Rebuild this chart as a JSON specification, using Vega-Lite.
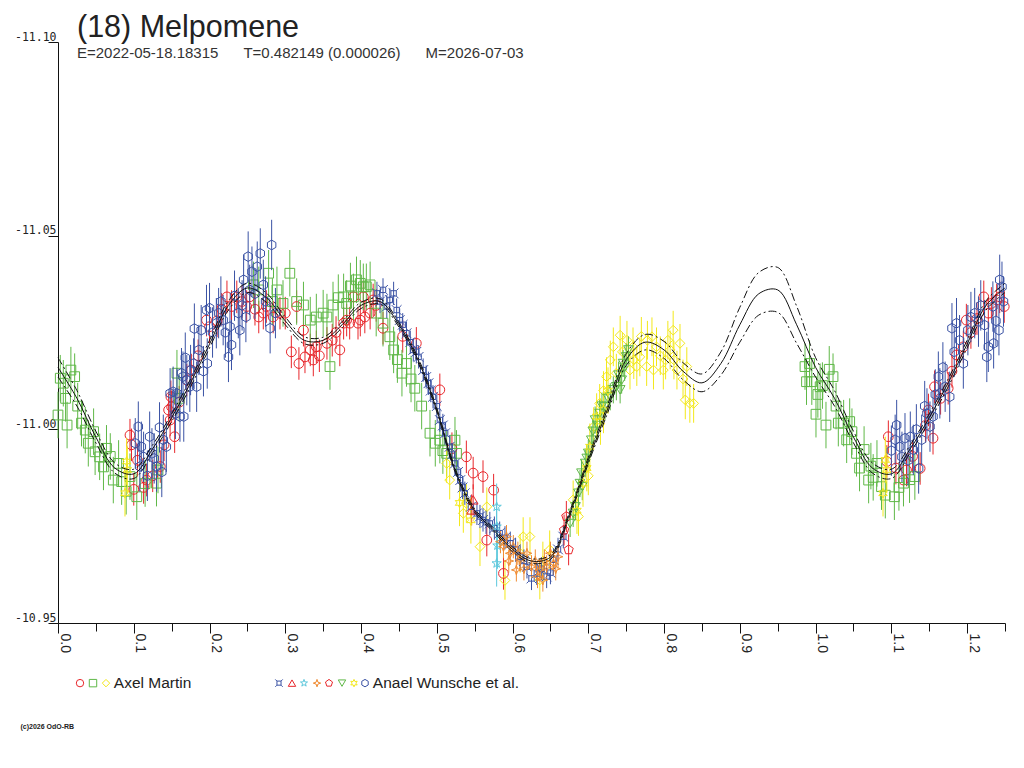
{
  "$schema": "https://vega.github.io/schema/vega-lite/v6.json",
  "description": "(18) Melpomene phased lightcurve",
  "width": 947,
  "height": 581,
  "autosize": "none",
  "padding": {"left": 58, "top": 42, "right": 19, "bottom": 145},
  "background": "white",
  "config": {
    "view": {"stroke": null},
    "font": "Liberation Sans"
  },
  "title": {
    "text": "(18) Melpomene",
    "subtitle": "E=2022-05-18.18315\u00a0\u00a0\u00a0\u00a0\u00a0\u00a0T=0.482149 (0.000026)\u00a0\u00a0\u00a0\u00a0\u00a0\u00a0M=2026-07-03",
    "anchor": "start",
    "frame": "group",
    "dx": 19,
    "offset": -30,
    "fontSize": 30.5,
    "fontWeight": "normal",
    "color": "#222222",
    "subtitleFontSize": 15,
    "subtitleColor": "#333333",
    "subtitlePadding": 3
  },
  "datasets": {
    "fit": [
      {"p": 0.000, "mid": -11.016, "up": -11.0185, "lo": -11.0135},
      {"p": 0.025, "mid": -11.008, "up": -11.010, "lo": -11.006},
      {"p": 0.050, "mid": -10.998, "up": -10.9995, "lo": -10.9965},
      {"p": 0.075, "mid": -10.990, "up": -10.9913, "lo": -10.9887},
      {"p": 0.100, "mid": -10.9885, "up": -10.9897, "lo": -10.9873},
      {"p": 0.125, "mid": -10.995, "up": -10.996, "lo": -10.994},
      {"p": 0.150, "mid": -11.003, "up": -11.004, "lo": -11.002},
      {"p": 0.175, "mid": -11.012, "up": -11.013, "lo": -11.011},
      {"p": 0.200, "mid": -11.022, "up": -11.023, "lo": -11.021},
      {"p": 0.225, "mid": -11.032, "up": -11.0332, "lo": -11.0308},
      {"p": 0.250, "mid": -11.0365, "up": -11.0377, "lo": -11.0353},
      {"p": 0.275, "mid": -11.034, "up": -11.0352, "lo": -11.0328},
      {"p": 0.300, "mid": -11.028, "up": -11.029, "lo": -11.027},
      {"p": 0.325, "mid": -11.023, "up": -11.0239, "lo": -11.0221},
      {"p": 0.350, "mid": -11.023, "up": -11.0238, "lo": -11.0222},
      {"p": 0.375, "mid": -11.027, "up": -11.0278, "lo": -11.0262},
      {"p": 0.400, "mid": -11.032, "up": -11.0328, "lo": -11.0312},
      {"p": 0.425, "mid": -11.033, "up": -11.0337, "lo": -11.0323},
      {"p": 0.450, "mid": -11.027, "up": -11.0276, "lo": -11.0264},
      {"p": 0.475, "mid": -11.018, "up": -11.0186, "lo": -11.0174},
      {"p": 0.500, "mid": -11.005, "up": -11.0055, "lo": -11.0045},
      {"p": 0.525, "mid": -10.989, "up": -10.9895, "lo": -10.9885},
      {"p": 0.550, "mid": -10.979, "up": -10.9795, "lo": -10.9785},
      {"p": 0.575, "mid": -10.974, "up": -10.9745, "lo": -10.9735},
      {"p": 0.600, "mid": -10.969, "up": -10.9696, "lo": -10.9684},
      {"p": 0.625, "mid": -10.966, "up": -10.9666, "lo": -10.9654},
      {"p": 0.650, "mid": -10.967, "up": -10.9676, "lo": -10.9664},
      {"p": 0.675, "mid": -10.978, "up": -10.9786, "lo": -10.9774},
      {"p": 0.700, "mid": -10.992, "up": -10.9928, "lo": -10.9912},
      {"p": 0.725, "mid": -11.005, "up": -11.006, "lo": -11.004},
      {"p": 0.750, "mid": -11.018, "up": -11.0195, "lo": -11.0165},
      {"p": 0.775, "mid": -11.0225, "up": -11.0245, "lo": -11.0205},
      {"p": 0.800, "mid": -11.0205, "up": -11.0227, "lo": -11.0183},
      {"p": 0.825, "mid": -11.015, "up": -11.0172, "lo": -11.0128},
      {"p": 0.850, "mid": -11.012, "up": -11.0143, "lo": -11.0097},
      {"p": 0.875, "mid": -11.017, "up": -11.020, "lo": -11.014},
      {"p": 0.900, "mid": -11.027, "up": -11.0315, "lo": -11.0225},
      {"p": 0.925, "mid": -11.035, "up": -11.0405, "lo": -11.0295},
      {"p": 0.950, "mid": -11.036, "up": -11.0418, "lo": -11.0302},
      {"p": 0.975, "mid": -11.027, "up": -11.0318, "lo": -11.0222},
      {"p": 1.000, "mid": -11.016, "up": -11.0185, "lo": -11.0135},
      {"p": 1.025, "mid": -11.008, "up": -11.010, "lo": -11.006},
      {"p": 1.050, "mid": -10.998, "up": -10.9995, "lo": -10.9965},
      {"p": 1.075, "mid": -10.990, "up": -10.9913, "lo": -10.9887},
      {"p": 1.100, "mid": -10.9885, "up": -10.9897, "lo": -10.9873},
      {"p": 1.125, "mid": -10.995, "up": -10.996, "lo": -10.994},
      {"p": 1.150, "mid": -11.003, "up": -11.004, "lo": -11.002},
      {"p": 1.175, "mid": -11.012, "up": -11.013, "lo": -11.011},
      {"p": 1.200, "mid": -11.022, "up": -11.023, "lo": -11.021},
      {"p": 1.225, "mid": -11.032, "up": -11.0332, "lo": -11.0308},
      {"p": 1.250, "mid": -11.0365, "up": -11.0377, "lo": -11.0353}
    ]
  },
  "data": {
    "values": [
      {"s": "AMc", "p": 0.095, "m": -10.9985, "e": 0.0042},
      {"s": "AMc", "p": 0.097, "m": -10.996, "e": 0.0042},
      {"s": "AMc", "p": 0.100, "m": -10.9845, "e": 0.0042},
      {"s": "AMc", "p": 0.105, "m": -10.992, "e": 0.0042},
      {"s": "AMc", "p": 0.113, "m": -10.985, "e": 0.0042},
      {"s": "AMc", "p": 0.117, "m": -10.9869, "e": 0.0042},
      {"s": "AMc", "p": 0.125, "m": -10.988, "e": 0.0042},
      {"s": "AMc", "p": 0.135, "m": -10.9904, "e": 0.0042},
      {"s": "AMc", "p": 0.140, "m": -10.996, "e": 0.0042},
      {"s": "AMc", "p": 0.146, "m": -11.005, "e": 0.0042},
      {"s": "AMc", "p": 0.148, "m": -11.0024, "e": 0.0042},
      {"s": "AMc", "p": 0.149, "m": -11.0084, "e": 0.0042},
      {"s": "AMc", "p": 0.150, "m": -11.0058, "e": 0.0042},
      {"s": "AMc", "p": 0.154, "m": -10.9981, "e": 0.0042},
      {"s": "AMc", "p": 0.160, "m": -11.007, "e": 0.0042},
      {"s": "AMc", "p": 0.170, "m": -11.0127, "e": 0.0042},
      {"s": "AMc", "p": 0.176, "m": -11.0153, "e": 0.0042},
      {"s": "AMc", "p": 0.185, "m": -11.019, "e": 0.0042},
      {"s": "AMc", "p": 0.196, "m": -11.0282, "e": 0.0042},
      {"s": "AMc", "p": 0.200, "m": -11.0265, "e": 0.0042},
      {"s": "AMc", "p": 0.210, "m": -11.028, "e": 0.0042},
      {"s": "AMc", "p": 0.216, "m": -11.031, "e": 0.0042},
      {"s": "AMc", "p": 0.223, "m": -11.0342, "e": 0.0042},
      {"s": "AMc", "p": 0.229, "m": -11.0317, "e": 0.0042},
      {"s": "AMc", "p": 0.236, "m": -11.0342, "e": 0.0042},
      {"s": "AMc", "p": 0.243, "m": -11.033, "e": 0.0042},
      {"s": "AMc", "p": 0.249, "m": -11.0317, "e": 0.0042},
      {"s": "AMc", "p": 0.253, "m": -11.0342, "e": 0.0042},
      {"s": "AMc", "p": 0.260, "m": -11.031, "e": 0.0042},
      {"s": "AMc", "p": 0.265, "m": -11.029, "e": 0.0042},
      {"s": "AMc", "p": 0.271, "m": -11.030, "e": 0.0042},
      {"s": "AMc", "p": 0.275, "m": -11.0317, "e": 0.0042},
      {"s": "AMc", "p": 0.284, "m": -11.029, "e": 0.0042},
      {"s": "AMc", "p": 0.293, "m": -11.030, "e": 0.0042},
      {"s": "AMc", "p": 0.300, "m": -11.030, "e": 0.0042},
      {"s": "AMc", "p": 0.308, "m": -11.020, "e": 0.0042},
      {"s": "AMc", "p": 0.315, "m": -11.0317, "e": 0.0042},
      {"s": "AMc", "p": 0.318, "m": -11.017, "e": 0.0042},
      {"s": "AMc", "p": 0.324, "m": -11.0256, "e": 0.0042},
      {"s": "AMc", "p": 0.326, "m": -11.0187, "e": 0.0042},
      {"s": "AMc", "p": 0.333, "m": -11.0205, "e": 0.0042},
      {"s": "AMc", "p": 0.337, "m": -11.0179, "e": 0.0042},
      {"s": "AMc", "p": 0.341, "m": -11.0213, "e": 0.0042},
      {"s": "AMc", "p": 0.345, "m": -11.019, "e": 0.0042},
      {"s": "AMc", "p": 0.355, "m": -11.0222, "e": 0.0042},
      {"s": "AMc", "p": 0.362, "m": -11.023, "e": 0.0042},
      {"s": "AMc", "p": 0.367, "m": -11.025, "e": 0.0042},
      {"s": "AMc", "p": 0.372, "m": -11.0205, "e": 0.0042},
      {"s": "AMc", "p": 0.377, "m": -11.0274, "e": 0.0042},
      {"s": "AMc", "p": 0.381, "m": -11.0282, "e": 0.0042},
      {"s": "AMc", "p": 0.385, "m": -11.0274, "e": 0.0042},
      {"s": "AMc", "p": 0.390, "m": -11.0342, "e": 0.0042},
      {"s": "AMc", "p": 0.396, "m": -11.0274, "e": 0.0042},
      {"s": "AMc", "p": 0.399, "m": -11.0282, "e": 0.0042},
      {"s": "AMc", "p": 0.403, "m": -11.0342, "e": 0.0042},
      {"s": "AMc", "p": 0.405, "m": -11.029, "e": 0.0042},
      {"s": "AMc", "p": 0.412, "m": -11.030, "e": 0.0042},
      {"s": "AMc", "p": 0.416, "m": -11.0334, "e": 0.0042},
      {"s": "AMc", "p": 0.420, "m": -11.032, "e": 0.0042},
      {"s": "AMc", "p": 0.429, "m": -11.0261, "e": 0.0042},
      {"s": "AMc", "p": 0.455, "m": -11.024, "e": 0.0042},
      {"s": "AMc", "p": 0.473, "m": -11.0222, "e": 0.0042},
      {"s": "AMc", "p": 0.504, "m": -11.0102, "e": 0.0042},
      {"s": "AMc", "p": 0.520, "m": -10.995, "e": 0.0042},
      {"s": "AMc", "p": 0.539, "m": -10.9929, "e": 0.0042},
      {"s": "AMc", "p": 0.548, "m": -10.9887, "e": 0.0042},
      {"s": "AMc", "p": 0.561, "m": -10.9878, "e": 0.0042},
      {"s": "AMc", "p": 0.566, "m": -10.9714, "e": 0.0042},
      {"s": "AMc", "p": 0.575, "m": -10.9843, "e": 0.0042},
      {"s": "AMc", "p": 0.588, "m": -10.9628, "e": 0.0042},
      {"s": "AMc", "p": 1.094, "m": -10.9917, "e": 0.0042},
      {"s": "AMc", "p": 1.096, "m": -10.9981, "e": 0.0042},
      {"s": "AMc", "p": 1.106, "m": -10.990, "e": 0.0042},
      {"s": "AMc", "p": 1.116, "m": -10.9869, "e": 0.0042},
      {"s": "AMc", "p": 1.120, "m": -10.9895, "e": 0.0042},
      {"s": "AMc", "p": 1.128, "m": -10.993, "e": 0.0042},
      {"s": "AMc", "p": 1.138, "m": -10.9899, "e": 0.0042},
      {"s": "AMc", "p": 1.145, "m": -11.001, "e": 0.0042},
      {"s": "AMc", "p": 1.149, "m": -11.005, "e": 0.0042},
      {"s": "AMc", "p": 1.155, "m": -10.9977, "e": 0.0042},
      {"s": "AMc", "p": 1.157, "m": -11.011, "e": 0.0042},
      {"s": "AMc", "p": 1.165, "m": -11.008, "e": 0.0042},
      {"s": "AMc", "p": 1.175, "m": -11.0106, "e": 0.0042},
      {"s": "AMc", "p": 1.180, "m": -11.015, "e": 0.0042},
      {"s": "AMc", "p": 1.186, "m": -11.0192, "e": 0.0042},
      {"s": "AMc", "p": 1.195, "m": -11.0213, "e": 0.0042},
      {"s": "AMc", "p": 1.199, "m": -11.0282, "e": 0.0042},
      {"s": "AMc", "p": 1.205, "m": -11.025, "e": 0.0042},
      {"s": "AMc", "p": 1.213, "m": -11.0286, "e": 0.0042},
      {"s": "AMc", "p": 1.222, "m": -11.0342, "e": 0.0042},
      {"s": "AMc", "p": 1.228, "m": -11.030, "e": 0.0042},
      {"s": "AMc", "p": 1.232, "m": -11.0325, "e": 0.0042},
      {"s": "AMc", "p": 1.239, "m": -11.0334, "e": 0.0042},
      {"s": "AMc", "p": 1.243, "m": -11.0342, "e": 0.0042},
      {"s": "AMc", "p": 1.249, "m": -11.0317, "e": 0.0042},

      {"s": "AMs", "p": 0.000, "m": -11.0037, "e": 0.006},
      {"s": "AMs", "p": 0.003, "m": -11.0132, "e": 0.006},
      {"s": "AMs", "p": 0.007, "m": -11.0119, "e": 0.006},
      {"s": "AMs", "p": 0.010, "m": -11.008, "e": 0.006},
      {"s": "AMs", "p": 0.012, "m": -11.0011, "e": 0.006},
      {"s": "AMs", "p": 0.017, "m": -11.0153, "e": 0.006},
      {"s": "AMs", "p": 0.022, "m": -11.0136, "e": 0.006},
      {"s": "AMs", "p": 0.026, "m": -11.006, "e": 0.006},
      {"s": "AMs", "p": 0.031, "m": -11.0016, "e": 0.006},
      {"s": "AMs", "p": 0.036, "m": -10.9998, "e": 0.006},
      {"s": "AMs", "p": 0.040, "m": -10.9964, "e": 0.006},
      {"s": "AMs", "p": 0.047, "m": -10.9994, "e": 0.006},
      {"s": "AMs", "p": 0.049, "m": -10.9942, "e": 0.006},
      {"s": "AMs", "p": 0.055, "m": -10.9929, "e": 0.006},
      {"s": "AMs", "p": 0.060, "m": -10.9903, "e": 0.006},
      {"s": "AMs", "p": 0.064, "m": -10.9951, "e": 0.006},
      {"s": "AMs", "p": 0.069, "m": -10.993, "e": 0.006},
      {"s": "AMs", "p": 0.073, "m": -10.9869, "e": 0.006},
      {"s": "AMs", "p": 0.080, "m": -10.9912, "e": 0.006},
      {"s": "AMs", "p": 0.084, "m": -10.9865, "e": 0.006},
      {"s": "AMs", "p": 0.090, "m": -10.984, "e": 0.006},
      {"s": "AMs", "p": 0.095, "m": -10.9878, "e": 0.006},
      {"s": "AMs", "p": 0.104, "m": -10.9826, "e": 0.006},
      {"s": "AMs", "p": 0.115, "m": -10.986, "e": 0.006},
      {"s": "AMs", "p": 0.130, "m": -10.9861, "e": 0.006},
      {"s": "AMs", "p": 0.132, "m": -10.9895, "e": 0.006},
      {"s": "AMs", "p": 0.157, "m": -11.0145, "e": 0.006},
      {"s": "AMs", "p": 0.160, "m": -11.008, "e": 0.006},
      {"s": "AMs", "p": 0.258, "m": -11.0373, "e": 0.006},
      {"s": "AMs", "p": 0.265, "m": -11.036, "e": 0.006},
      {"s": "AMs", "p": 0.278, "m": -11.0403, "e": 0.006},
      {"s": "AMs", "p": 0.283, "m": -11.033, "e": 0.006},
      {"s": "AMs", "p": 0.289, "m": -11.036, "e": 0.006},
      {"s": "AMs", "p": 0.297, "m": -11.0325, "e": 0.006},
      {"s": "AMs", "p": 0.306, "m": -11.0403, "e": 0.006},
      {"s": "AMs", "p": 0.315, "m": -11.033, "e": 0.006},
      {"s": "AMs", "p": 0.324, "m": -11.0321, "e": 0.006},
      {"s": "AMs", "p": 0.333, "m": -11.0282, "e": 0.006},
      {"s": "AMs", "p": 0.341, "m": -11.029, "e": 0.006},
      {"s": "AMs", "p": 0.350, "m": -11.030, "e": 0.006},
      {"s": "AMs", "p": 0.355, "m": -11.029, "e": 0.006},
      {"s": "AMs", "p": 0.359, "m": -11.0162, "e": 0.006},
      {"s": "AMs", "p": 0.363, "m": -11.0321, "e": 0.006},
      {"s": "AMs", "p": 0.370, "m": -11.034, "e": 0.006},
      {"s": "AMs", "p": 0.377, "m": -11.0342, "e": 0.006},
      {"s": "AMs", "p": 0.381, "m": -11.0325, "e": 0.006},
      {"s": "AMs", "p": 0.386, "m": -11.037, "e": 0.006},
      {"s": "AMs", "p": 0.390, "m": -11.0342, "e": 0.006},
      {"s": "AMs", "p": 0.394, "m": -11.0386, "e": 0.006},
      {"s": "AMs", "p": 0.399, "m": -11.0377, "e": 0.006},
      {"s": "AMs", "p": 0.403, "m": -11.0368, "e": 0.006},
      {"s": "AMs", "p": 0.407, "m": -11.0368, "e": 0.006},
      {"s": "AMs", "p": 0.412, "m": -11.0373, "e": 0.006},
      {"s": "AMs", "p": 0.420, "m": -11.030, "e": 0.006},
      {"s": "AMs", "p": 0.429, "m": -11.0274, "e": 0.006},
      {"s": "AMs", "p": 0.438, "m": -11.0239, "e": 0.006},
      {"s": "AMs", "p": 0.443, "m": -11.0205, "e": 0.006},
      {"s": "AMs", "p": 0.448, "m": -11.018, "e": 0.006},
      {"s": "AMs", "p": 0.454, "m": -11.0145, "e": 0.006},
      {"s": "AMs", "p": 0.460, "m": -11.017, "e": 0.006},
      {"s": "AMs", "p": 0.466, "m": -11.013, "e": 0.006},
      {"s": "AMs", "p": 0.471, "m": -11.0106, "e": 0.006},
      {"s": "AMs", "p": 0.480, "m": -11.006, "e": 0.006},
      {"s": "AMs", "p": 0.491, "m": -10.999, "e": 0.006},
      {"s": "AMs", "p": 0.498, "m": -10.9964, "e": 0.006},
      {"s": "AMs", "p": 0.504, "m": -10.9972, "e": 0.006},
      {"s": "AMs", "p": 0.508, "m": -10.9945, "e": 0.006},
      {"s": "AMs", "p": 0.513, "m": -10.9938, "e": 0.006},
      {"s": "AMs", "p": 0.524, "m": -10.9972, "e": 0.006},
      {"s": "AMs", "p": 0.526, "m": -10.9938, "e": 0.006},
      {"s": "AMs", "p": 0.986, "m": -11.0162, "e": 0.006},
      {"s": "AMs", "p": 0.988, "m": -11.0123, "e": 0.006},
      {"s": "AMs", "p": 0.992, "m": -11.017, "e": 0.006},
      {"s": "AMs", "p": 0.995, "m": -11.0123, "e": 0.006},
      {"s": "AMs", "p": 1.0005, "m": -11.0039, "e": 0.006},
      {"s": "AMs", "p": 1.003, "m": -11.009, "e": 0.006},
      {"s": "AMs", "p": 1.006, "m": -11.011, "e": 0.006},
      {"s": "AMs", "p": 1.009, "m": -11.0113, "e": 0.006},
      {"s": "AMs", "p": 1.0137, "m": -11.0011, "e": 0.006},
      {"s": "AMs", "p": 1.018, "m": -11.0155, "e": 0.006},
      {"s": "AMs", "p": 1.023, "m": -11.0136, "e": 0.006},
      {"s": "AMs", "p": 1.027, "m": -11.006, "e": 0.006},
      {"s": "AMs", "p": 1.030, "m": -11.0016, "e": 0.006},
      {"s": "AMs", "p": 1.037, "m": -11.0016, "e": 0.006},
      {"s": "AMs", "p": 1.041, "m": -10.9973, "e": 0.006},
      {"s": "AMs", "p": 1.045, "m": -11.002, "e": 0.006},
      {"s": "AMs", "p": 1.048, "m": -10.9994, "e": 0.006},
      {"s": "AMs", "p": 1.054, "m": -10.9938, "e": 0.006},
      {"s": "AMs", "p": 1.058, "m": -10.990, "e": 0.006},
      {"s": "AMs", "p": 1.064, "m": -10.9948, "e": 0.006},
      {"s": "AMs", "p": 1.070, "m": -10.9869, "e": 0.006},
      {"s": "AMs", "p": 1.073, "m": -10.9905, "e": 0.006},
      {"s": "AMs", "p": 1.076, "m": -10.9876, "e": 0.006},
      {"s": "AMs", "p": 1.081, "m": -10.9912, "e": 0.006},
      {"s": "AMs", "p": 1.087, "m": -10.9852, "e": 0.006},
      {"s": "AMs", "p": 1.092, "m": -10.983, "e": 0.006},
      {"s": "AMs", "p": 1.104, "m": -10.9826, "e": 0.006},
      {"s": "AMs", "p": 1.110, "m": -10.985, "e": 0.006},
      {"s": "AMs", "p": 1.116, "m": -10.9861, "e": 0.006},
      {"s": "AMs", "p": 1.124, "m": -10.987, "e": 0.006},
      {"s": "AMs", "p": 1.131, "m": -10.9878, "e": 0.006},

      {"s": "AMd", "p": 0.513, "m": -10.9912, "e": 0.005},
      {"s": "AMd", "p": 0.517, "m": -10.9869, "e": 0.005},
      {"s": "AMd", "p": 0.535, "m": -10.9783, "e": 0.005},
      {"s": "AMd", "p": 0.539, "m": -10.9809, "e": 0.005},
      {"s": "AMd", "p": 0.557, "m": -10.9697, "e": 0.005},
      {"s": "AMd", "p": 0.566, "m": -10.980, "e": 0.005},
      {"s": "AMd", "p": 0.590, "m": -10.961, "e": 0.005},
      {"s": "AMd", "p": 0.610, "m": -10.968, "e": 0.005},
      {"s": "AMd", "p": 0.614, "m": -10.9723, "e": 0.005},
      {"s": "AMd", "p": 0.623, "m": -10.9723, "e": 0.005},
      {"s": "AMd", "p": 0.636, "m": -10.9611, "e": 0.005},
      {"s": "AMd", "p": 0.640, "m": -10.966, "e": 0.005},
      {"s": "AMd", "p": 0.649, "m": -10.9689, "e": 0.005},
      {"s": "AMd", "p": 0.680, "m": -10.9818, "e": 0.005},
      {"s": "AMd", "p": 0.687, "m": -10.9775, "e": 0.005},
      {"s": "AMd", "p": 0.700, "m": -10.988, "e": 0.005},
      {"s": "AMd", "p": 0.707, "m": -11.0007, "e": 0.005},
      {"s": "AMd", "p": 0.715, "m": -11.0067, "e": 0.005},
      {"s": "AMd", "p": 0.720, "m": -11.010, "e": 0.005},
      {"s": "AMd", "p": 0.724, "m": -11.0136, "e": 0.005},
      {"s": "AMd", "p": 0.729, "m": -11.0179, "e": 0.005},
      {"s": "AMd", "p": 0.733, "m": -11.0213, "e": 0.005},
      {"s": "AMd", "p": 0.737, "m": -11.0145, "e": 0.005},
      {"s": "AMd", "p": 0.742, "m": -11.0243, "e": 0.005},
      {"s": "AMd", "p": 0.745, "m": -11.020, "e": 0.005},
      {"s": "AMd", "p": 0.751, "m": -11.023, "e": 0.005},
      {"s": "AMd", "p": 0.755, "m": -11.0153, "e": 0.005},
      {"s": "AMd", "p": 0.759, "m": -11.0213, "e": 0.005},
      {"s": "AMd", "p": 0.760, "m": -11.018, "e": 0.005},
      {"s": "AMd", "p": 0.764, "m": -11.0162, "e": 0.005},
      {"s": "AMd", "p": 0.768, "m": -11.0187, "e": 0.005},
      {"s": "AMd", "p": 0.770, "m": -11.024, "e": 0.005},
      {"s": "AMd", "p": 0.777, "m": -11.0162, "e": 0.005},
      {"s": "AMd", "p": 0.778, "m": -11.023, "e": 0.005},
      {"s": "AMd", "p": 0.784, "m": -11.0239, "e": 0.005},
      {"s": "AMd", "p": 0.786, "m": -11.0153, "e": 0.005},
      {"s": "AMd", "p": 0.790, "m": -11.0213, "e": 0.005},
      {"s": "AMd", "p": 0.795, "m": -11.019, "e": 0.005},
      {"s": "AMd", "p": 0.799, "m": -11.0153, "e": 0.005},
      {"s": "AMd", "p": 0.802, "m": -11.0179, "e": 0.005},
      {"s": "AMd", "p": 0.805, "m": -11.023, "e": 0.005},
      {"s": "AMd", "p": 0.808, "m": -11.0205, "e": 0.005},
      {"s": "AMd", "p": 0.812, "m": -11.0256, "e": 0.005},
      {"s": "AMd", "p": 0.813, "m": -11.0179, "e": 0.005},
      {"s": "AMd", "p": 0.817, "m": -11.0153, "e": 0.005},
      {"s": "AMd", "p": 0.821, "m": -11.0222, "e": 0.005},
      {"s": "AMd", "p": 0.825, "m": -11.013, "e": 0.005},
      {"s": "AMd", "p": 0.828, "m": -11.0076, "e": 0.005},
      {"s": "AMd", "p": 0.830, "m": -11.0162, "e": 0.005},
      {"s": "AMd", "p": 0.834, "m": -11.0067, "e": 0.005},
      {"s": "AMd", "p": 0.839, "m": -11.0067, "e": 0.005},

      {"s": "AWx", "p": 0.421, "m": -11.0351, "e": 0.003},
      {"s": "AWx", "p": 0.425, "m": -11.033, "e": 0.003},
      {"s": "AWx", "p": 0.429, "m": -11.036, "e": 0.003},
      {"s": "AWx", "p": 0.434, "m": -11.0317, "e": 0.003},
      {"s": "AWx", "p": 0.438, "m": -11.0334, "e": 0.003},
      {"s": "AWx", "p": 0.443, "m": -11.0351, "e": 0.003},
      {"s": "AWx", "p": 0.447, "m": -11.0308, "e": 0.003},
      {"s": "AWx", "p": 0.451, "m": -11.0282, "e": 0.003},
      {"s": "AWx", "p": 0.455, "m": -11.027, "e": 0.003},
      {"s": "AWx", "p": 0.460, "m": -11.0248, "e": 0.003},
      {"s": "AWx", "p": 0.465, "m": -11.0225, "e": 0.003},
      {"s": "AWx", "p": 0.469, "m": -11.0205, "e": 0.003},
      {"s": "AWx", "p": 0.473, "m": -11.020, "e": 0.003},
      {"s": "AWx", "p": 0.476, "m": -11.0187, "e": 0.003},
      {"s": "AWx", "p": 0.482, "m": -11.0153, "e": 0.003},
      {"s": "AWx", "p": 0.486, "m": -11.0135, "e": 0.003},
      {"s": "AWx", "p": 0.489, "m": -11.0119, "e": 0.003},
      {"s": "AWx", "p": 0.492, "m": -11.010, "e": 0.003},
      {"s": "AWx", "p": 0.495, "m": -11.0084, "e": 0.003},
      {"s": "AWx", "p": 0.500, "m": -11.006, "e": 0.003},
      {"s": "AWx", "p": 0.504, "m": -11.0024, "e": 0.003},
      {"s": "AWx", "p": 0.508, "m": -11.001, "e": 0.003},
      {"s": "AWx", "p": 0.511, "m": -10.999, "e": 0.003},
      {"s": "AWx", "p": 0.517, "m": -10.9955, "e": 0.003},
      {"s": "AWx", "p": 0.520, "m": -10.9935, "e": 0.003},
      {"s": "AWx", "p": 0.524, "m": -10.9912, "e": 0.003},
      {"s": "AWx", "p": 0.528, "m": -10.989, "e": 0.003},
      {"s": "AWx", "p": 0.531, "m": -10.9869, "e": 0.003},
      {"s": "AWx", "p": 0.534, "m": -10.985, "e": 0.003},
      {"s": "AWx", "p": 0.537, "m": -10.9835, "e": 0.003},
      {"s": "AWx", "p": 0.545, "m": -10.980, "e": 0.003},
      {"s": "AWx", "p": 0.553, "m": -10.9783, "e": 0.003},
      {"s": "AWx", "p": 0.557, "m": -10.9775, "e": 0.003},
      {"s": "AWx", "p": 0.561, "m": -10.9766, "e": 0.003},
      {"s": "AWx", "p": 0.565, "m": -10.976, "e": 0.003},
      {"s": "AWx", "p": 0.570, "m": -10.9757, "e": 0.003},
      {"s": "AWx", "p": 0.576, "m": -10.9745, "e": 0.003},
      {"s": "AWx", "p": 0.583, "m": -10.9732, "e": 0.003},
      {"s": "AWx", "p": 0.590, "m": -10.972, "e": 0.003},
      {"s": "AWx", "p": 0.597, "m": -10.9706, "e": 0.003},
      {"s": "AWx", "p": 0.604, "m": -10.969, "e": 0.003},
      {"s": "AWx", "p": 0.610, "m": -10.9671, "e": 0.003},
      {"s": "AWx", "p": 0.615, "m": -10.966, "e": 0.003},
      {"s": "AWx", "p": 0.619, "m": -10.9645, "e": 0.003},
      {"s": "AWx", "p": 0.625, "m": -10.9615, "e": 0.003},
      {"s": "AWx", "p": 0.632, "m": -10.9628, "e": 0.003},
      {"s": "AWx", "p": 0.638, "m": -10.964, "e": 0.003},
      {"s": "AWx", "p": 0.645, "m": -10.962, "e": 0.003},
      {"s": "AWx", "p": 0.650, "m": -10.963, "e": 0.003},
      {"s": "AWx", "p": 0.654, "m": -10.9663, "e": 0.003},
      {"s": "AWx", "p": 0.660, "m": -10.969, "e": 0.003},
      {"s": "AWx", "p": 0.667, "m": -10.9723, "e": 0.003},

      {"s": "AWt", "p": 0.546, "m": -10.9792, "e": 0.004},
      {"s": "AWt", "p": 0.548, "m": -10.9818, "e": 0.004},

      {"s": "AWs", "p": 0.579, "m": -10.980, "e": 0.006},
      {"s": "AWs", "p": 0.579, "m": -10.9749, "e": 0.006},
      {"s": "AWs", "p": 0.579, "m": -10.9654, "e": 0.006},
      {"s": "AWs", "p": 0.580, "m": -10.970, "e": 0.006},

      {"s": "AWf", "p": 0.584, "m": -10.971, "e": 0.003},
      {"s": "AWf", "p": 0.588, "m": -10.9697, "e": 0.003},
      {"s": "AWf", "p": 0.592, "m": -10.9723, "e": 0.003},
      {"s": "AWf", "p": 0.595, "m": -10.966, "e": 0.003},
      {"s": "AWf", "p": 0.597, "m": -10.968, "e": 0.003},
      {"s": "AWf", "p": 0.601, "m": -10.9697, "e": 0.003},
      {"s": "AWf", "p": 0.605, "m": -10.9637, "e": 0.003},
      {"s": "AWf", "p": 0.607, "m": -10.968, "e": 0.003},
      {"s": "AWf", "p": 0.610, "m": -10.9663, "e": 0.003},
      {"s": "AWf", "p": 0.615, "m": -10.964, "e": 0.003},
      {"s": "AWf", "p": 0.619, "m": -10.968, "e": 0.003},
      {"s": "AWf", "p": 0.625, "m": -10.9645, "e": 0.003},
      {"s": "AWf", "p": 0.630, "m": -10.966, "e": 0.003},
      {"s": "AWf", "p": 0.633, "m": -10.962, "e": 0.003},
      {"s": "AWf", "p": 0.636, "m": -10.9637, "e": 0.003},
      {"s": "AWf", "p": 0.640, "m": -10.9611, "e": 0.003},
      {"s": "AWf", "p": 0.642, "m": -10.966, "e": 0.003},
      {"s": "AWf", "p": 0.645, "m": -10.9645, "e": 0.003},
      {"s": "AWf", "p": 0.650, "m": -10.968, "e": 0.003},
      {"s": "AWf", "p": 0.654, "m": -10.9654, "e": 0.003},
      {"s": "AWf", "p": 0.657, "m": -10.964, "e": 0.003},
      {"s": "AWf", "p": 0.660, "m": -10.9671, "e": 0.003},

      {"s": "AWp", "p": 0.668, "m": -10.974, "e": 0.004},
      {"s": "AWp", "p": 0.671, "m": -10.9775, "e": 0.004},
      {"s": "AWp", "p": 0.674, "m": -10.9689, "e": 0.004},

      {"s": "AWv", "p": 0.676, "m": -10.9757, "e": 0.0035},
      {"s": "AWv", "p": 0.680, "m": -10.9783, "e": 0.0035},
      {"s": "AWv", "p": 0.683, "m": -10.980, "e": 0.0035},
      {"s": "AWv", "p": 0.687, "m": -10.9835, "e": 0.0035},
      {"s": "AWv", "p": 0.689, "m": -10.986, "e": 0.0035},
      {"s": "AWv", "p": 0.691, "m": -10.9887, "e": 0.0035},
      {"s": "AWv", "p": 0.692, "m": -10.9852, "e": 0.0035},
      {"s": "AWv", "p": 0.696, "m": -10.9912, "e": 0.0035},
      {"s": "AWv", "p": 0.698, "m": -10.9925, "e": 0.0035},
      {"s": "AWv", "p": 0.700, "m": -10.9938, "e": 0.0035},
      {"s": "AWv", "p": 0.704, "m": -10.9972, "e": 0.0035},
      {"s": "AWv", "p": 0.706, "m": -10.9995, "e": 0.0035},
      {"s": "AWv", "p": 0.709, "m": -11.0024, "e": 0.0035},
      {"s": "AWv", "p": 0.712, "m": -11.001, "e": 0.0035},
      {"s": "AWv", "p": 0.715, "m": -11.0041, "e": 0.0035},
      {"s": "AWv", "p": 0.718, "m": -11.006, "e": 0.0035},
      {"s": "AWv", "p": 0.722, "m": -11.0058, "e": 0.0035},
      {"s": "AWv", "p": 0.726, "m": -11.008, "e": 0.0035},
      {"s": "AWv", "p": 0.729, "m": -11.0084, "e": 0.0035},
      {"s": "AWv", "p": 0.733, "m": -11.0102, "e": 0.0035},
      {"s": "AWv", "p": 0.737, "m": -11.011, "e": 0.0035},
      {"s": "AWv", "p": 0.740, "m": -11.014, "e": 0.0035},
      {"s": "AWv", "p": 0.742, "m": -11.0102, "e": 0.0035},
      {"s": "AWv", "p": 0.744, "m": -11.0127, "e": 0.0035},
      {"s": "AWv", "p": 0.746, "m": -11.017, "e": 0.0035},
      {"s": "AWv", "p": 0.748, "m": -11.016, "e": 0.0035},
      {"s": "AWv", "p": 0.750, "m": -11.0187, "e": 0.0035},
      {"s": "AWv", "p": 0.753, "m": -11.0205, "e": 0.0035},

      {"s": "AWy", "p": 0.0884, "m": -10.9835, "e": 0.006},
      {"s": "AWy", "p": 0.0906, "m": -10.9917, "e": 0.006},
      {"s": "AWy", "p": 0.0915, "m": -10.9895, "e": 0.006},
      {"s": "AWy", "p": 0.530, "m": -10.981, "e": 0.006},
      {"s": "AWy", "p": 0.545, "m": -10.9765, "e": 0.006},
      {"s": "AWy", "p": 0.685, "m": -10.979, "e": 0.006},
      {"s": "AWy", "p": 0.693, "m": -10.986, "e": 0.006},
      {"s": "AWy", "p": 0.698, "m": -10.990, "e": 0.006},
      {"s": "AWy", "p": 0.702, "m": -10.9955, "e": 0.006},
      {"s": "AWy", "p": 0.711, "m": -11.0033, "e": 0.006},
      {"s": "AWy", "p": 0.716, "m": -11.002, "e": 0.006},
      {"s": "AWy", "p": 0.720, "m": -11.005, "e": 0.006},
      {"s": "AWy", "p": 0.726, "m": -11.010, "e": 0.006},
      {"s": "AWy", "p": 1.089, "m": -10.9835, "e": 0.006},
      {"s": "AWy", "p": 1.092, "m": -10.9921, "e": 0.006},
      {"s": "AWy", "p": 1.094, "m": -10.9895, "e": 0.006},

      {"s": "AWh", "p": 0.102, "m": -10.9964, "e": 0.0065},
      {"s": "AWh", "p": 0.106, "m": -11.0007, "e": 0.0065},
      {"s": "AWh", "p": 0.108, "m": -10.9904, "e": 0.0065},
      {"s": "AWh", "p": 0.110, "m": -10.9955, "e": 0.0065},
      {"s": "AWh", "p": 0.113, "m": -10.9929, "e": 0.0065},
      {"s": "AWh", "p": 0.118, "m": -10.988, "e": 0.0065},
      {"s": "AWh", "p": 0.121, "m": -10.9981, "e": 0.0065},
      {"s": "AWh", "p": 0.124, "m": -10.9938, "e": 0.0065},
      {"s": "AWh", "p": 0.127, "m": -10.9925, "e": 0.0065},
      {"s": "AWh", "p": 0.130, "m": -10.9904, "e": 0.0065},
      {"s": "AWh", "p": 0.134, "m": -11.0005, "e": 0.0065},
      {"s": "AWh", "p": 0.137, "m": -10.989, "e": 0.0065},
      {"s": "AWh", "p": 0.139, "m": -10.9973, "e": 0.0065},
      {"s": "AWh", "p": 0.143, "m": -10.9955, "e": 0.0065},
      {"s": "AWh", "p": 0.148, "m": -11.0093, "e": 0.0065},
      {"s": "AWh", "p": 0.152, "m": -11.0097, "e": 0.0065},
      {"s": "AWh", "p": 0.155, "m": -11.004, "e": 0.0065},
      {"s": "AWh", "p": 0.157, "m": -11.0093, "e": 0.0065},
      {"s": "AWh", "p": 0.161, "m": -11.0033, "e": 0.0065},
      {"s": "AWh", "p": 0.163, "m": -11.0145, "e": 0.0065},
      {"s": "AWh", "p": 0.165, "m": -11.0136, "e": 0.0065},
      {"s": "AWh", "p": 0.166, "m": -11.0033, "e": 0.0065},
      {"s": "AWh", "p": 0.168, "m": -11.0185, "e": 0.0065},
      {"s": "AWh", "p": 0.170, "m": -11.0127, "e": 0.0065},
      {"s": "AWh", "p": 0.174, "m": -11.011, "e": 0.0065},
      {"s": "AWh", "p": 0.175, "m": -11.0153, "e": 0.0065},
      {"s": "AWh", "p": 0.179, "m": -11.017, "e": 0.0065},
      {"s": "AWh", "p": 0.180, "m": -11.026, "e": 0.0065},
      {"s": "AWh", "p": 0.183, "m": -11.011, "e": 0.0065},
      {"s": "AWh", "p": 0.186, "m": -11.0205, "e": 0.0065},
      {"s": "AWh", "p": 0.189, "m": -11.0256, "e": 0.0065},
      {"s": "AWh", "p": 0.192, "m": -11.015, "e": 0.0065},
      {"s": "AWh", "p": 0.196, "m": -11.0308, "e": 0.0065},
      {"s": "AWh", "p": 0.197, "m": -11.017, "e": 0.0065},
      {"s": "AWh", "p": 0.200, "m": -11.0313, "e": 0.0065},
      {"s": "AWh", "p": 0.204, "m": -11.025, "e": 0.0065},
      {"s": "AWh", "p": 0.209, "m": -11.0274, "e": 0.0065},
      {"s": "AWh", "p": 0.212, "m": -11.030, "e": 0.0065},
      {"s": "AWh", "p": 0.215, "m": -11.033, "e": 0.0065},
      {"s": "AWh", "p": 0.218, "m": -11.0282, "e": 0.0065},
      {"s": "AWh", "p": 0.221, "m": -11.025, "e": 0.0065},
      {"s": "AWh", "p": 0.225, "m": -11.0187, "e": 0.0065},
      {"s": "AWh", "p": 0.227, "m": -11.0265, "e": 0.0065},
      {"s": "AWh", "p": 0.229, "m": -11.0218, "e": 0.0065},
      {"s": "AWh", "p": 0.233, "m": -11.0345, "e": 0.0065},
      {"s": "AWh", "p": 0.238, "m": -11.030, "e": 0.0065},
      {"s": "AWh", "p": 0.240, "m": -11.0256, "e": 0.0065},
      {"s": "AWh", "p": 0.243, "m": -11.032, "e": 0.0065},
      {"s": "AWh", "p": 0.245, "m": -11.0386, "e": 0.0065},
      {"s": "AWh", "p": 0.248, "m": -11.029, "e": 0.0065},
      {"s": "AWh", "p": 0.251, "m": -11.0446, "e": 0.0065},
      {"s": "AWh", "p": 0.253, "m": -11.036, "e": 0.0065},
      {"s": "AWh", "p": 0.256, "m": -11.0407, "e": 0.0065},
      {"s": "AWh", "p": 0.260, "m": -11.035, "e": 0.0065},
      {"s": "AWh", "p": 0.263, "m": -11.042, "e": 0.0065},
      {"s": "AWh", "p": 0.267, "m": -11.0454, "e": 0.0065},
      {"s": "AWh", "p": 0.271, "m": -11.0373, "e": 0.0065},
      {"s": "AWh", "p": 0.274, "m": -11.033, "e": 0.0065},
      {"s": "AWh", "p": 0.280, "m": -11.0261, "e": 0.0065},
      {"s": "AWh", "p": 0.282, "m": -11.0476, "e": 0.0065},
      {"s": "AWh", "p": 0.287, "m": -11.030, "e": 0.0065},
      {"s": "AWh", "p": 1.100, "m": -10.9945, "e": 0.0065},
      {"s": "AWh", "p": 1.105, "m": -10.9973, "e": 0.0065},
      {"s": "AWh", "p": 1.107, "m": -11.0011, "e": 0.0065},
      {"s": "AWh", "p": 1.111, "m": -10.9955, "e": 0.0065},
      {"s": "AWh", "p": 1.114, "m": -10.9929, "e": 0.0065},
      {"s": "AWh", "p": 1.118, "m": -10.9977, "e": 0.0065},
      {"s": "AWh", "p": 1.122, "m": -10.992, "e": 0.0065},
      {"s": "AWh", "p": 1.125, "m": -10.9981, "e": 0.0065},
      {"s": "AWh", "p": 1.129, "m": -10.9947, "e": 0.0065},
      {"s": "AWh", "p": 1.133, "m": -11.000, "e": 0.0065},
      {"s": "AWh", "p": 1.136, "m": -10.9899, "e": 0.0065},
      {"s": "AWh", "p": 1.140, "m": -10.9973, "e": 0.0065},
      {"s": "AWh", "p": 1.144, "m": -11.006, "e": 0.0065},
      {"s": "AWh", "p": 1.147, "m": -11.0041, "e": 0.0065},
      {"s": "AWh", "p": 1.151, "m": -11.0007, "e": 0.0065},
      {"s": "AWh", "p": 1.155, "m": -11.0033, "e": 0.0065},
      {"s": "AWh", "p": 1.158, "m": -11.009, "e": 0.0065},
      {"s": "AWh", "p": 1.162, "m": -11.0136, "e": 0.0065},
      {"s": "AWh", "p": 1.164, "m": -11.0093, "e": 0.0065},
      {"s": "AWh", "p": 1.168, "m": -11.016, "e": 0.0065},
      {"s": "AWh", "p": 1.171, "m": -11.011, "e": 0.0065},
      {"s": "AWh", "p": 1.177, "m": -11.0084, "e": 0.0065},
      {"s": "AWh", "p": 1.180, "m": -11.0261, "e": 0.0065},
      {"s": "AWh", "p": 1.183, "m": -11.020, "e": 0.0065},
      {"s": "AWh", "p": 1.186, "m": -11.0274, "e": 0.0065},
      {"s": "AWh", "p": 1.190, "m": -11.023, "e": 0.0065},
      {"s": "AWh", "p": 1.195, "m": -11.017, "e": 0.0065},
      {"s": "AWh", "p": 1.201, "m": -11.0256, "e": 0.0065},
      {"s": "AWh", "p": 1.205, "m": -11.029, "e": 0.0065},
      {"s": "AWh", "p": 1.210, "m": -11.030, "e": 0.0065},
      {"s": "AWh", "p": 1.215, "m": -11.0278, "e": 0.0065},
      {"s": "AWh", "p": 1.218, "m": -11.032, "e": 0.0065},
      {"s": "AWh", "p": 1.223, "m": -11.0269, "e": 0.0065},
      {"s": "AWh", "p": 1.226, "m": -11.0187, "e": 0.0065},
      {"s": "AWh", "p": 1.228, "m": -11.0213, "e": 0.0065},
      {"s": "AWh", "p": 1.234, "m": -11.0317, "e": 0.0065},
      {"s": "AWh", "p": 1.235, "m": -11.0222, "e": 0.0065},
      {"s": "AWh", "p": 1.238, "m": -11.028, "e": 0.0065},
      {"s": "AWh", "p": 1.242, "m": -11.0256, "e": 0.0065},
      {"s": "AWh", "p": 1.243, "m": -11.0386, "e": 0.0065},
      {"s": "AWh", "p": 1.246, "m": -11.0368, "e": 0.0065},
      {"s": "AWh", "p": 1.248, "m": -11.033, "e": 0.0065}
    ]
  },
  "encoding": {
    "x": {
      "field": "p",
      "type": "quantitative",
      "title": "(c)2026 OdO-RB",
      "scale": {"domain": [0, 1.25], "nice": false, "zero": false},
      "axis": {
        "values": [0, 0.05, 0.1, 0.15, 0.2, 0.25, 0.3, 0.35, 0.4, 0.45, 0.5, 0.55, 0.6, 0.65, 0.7, 0.75, 0.8, 0.85, 0.9, 0.95, 1.0, 1.05, 1.1, 1.15, 1.2, 1.25],
        "labelExpr": "round(datum.value * 100) % 10 == 0 ? format(datum.value, '.1f') : ''",
        "labelAngle": 90,
        "labelBaseline": "alphabetic",
        "labelOffset": 2,
        "labelFontSize": 14,
        "labelColor": "#222222",
        "labelPadding": 0,
        "labelOverlap": false,
        "labelFlush": false,
        "tickSize": {"condition": {"test": "round(datum.value * 100) % 10 == 0", "value": 10}, "value": 8},
        "tickColor": "#111111",
        "domainColor": "#111111",
        "grid": false,
        "titleFontSize": 7,
        "titleFontWeight": "bold",
        "titleColor": "#222222",
        "titleAnchor": "start",
        "titleAlign": "left",
        "titleBaseline": "alphabetic",
        "titleX": -38,
        "titleY": 105
      }
    },
    "y": {
      "field": "m",
      "type": "quantitative",
      "title": null,
      "scale": {"domain": [-11.10, -10.95], "reverse": true, "nice": false, "zero": false},
      "axis": {
        "values": [-11.10, -11.05, -11.00, -10.95],
        "labelExpr": "replace(format(datum.value, '.2f'), '\u2212', '-')",
        "labelBaseline": "alphabetic",
        "labelOffset": -2,
        "labelFont": "DejaVu Sans Mono",
        "labelFontSize": 11.5,
        "labelColor": "#222222",
        "labelPadding": -8,
        "tickSize": 10,
        "tickColor": "#111111",
        "domainColor": "#111111",
        "grid": false
      }
    }
  },
  "layer": [
    {
      "transform": [{"filter": {"field": "s", "oneOf": ["AMc", "AMs", "AMd"]}}],
      "layer": [
        {
          "mark": {"type": "errorbar", "rule": {"strokeWidth": 1}},
          "encoding": {
            "yError": {"field": "e"},
            "color": {
              "field": "s",
              "type": "nominal",
              "scale": {"domain": ["AMc", "AMs", "AMd"], "range": ["#e8262b", "#5fb847", "#f3e81a"]}
            }
          }
        },
        {
          "mark": {"type": "point", "filled": false, "strokeWidth": 1, "size": 95, "opacity": 1},
          "encoding": {
            "color": {
              "field": "s",
              "type": "nominal",
              "scale": {"domain": ["AMc", "AMs", "AMd"], "range": ["#e8262b", "#5fb847", "#f3e81a"]},
              "legend": {
                "orient": "none",
                "legendX": 17.45,
                "legendY": 633,
                "direction": "horizontal",
                "title": null,
                "padding": 0,
                "gridAlign": "each",
                "columnPadding": 0,
                "symbolOffset": -3.2,
                "labelOffset": -11.95,
                "symbolSize": 55,
                "symbolStrokeWidth": 1,
                "labelFontSize": 15.5,
                "labelColor": "#222222",
                "labelExpr": "datum.value == 'AMd' ? '\u2800Axel Martin' : ''"
              }
            },
            "shape": {
              "field": "s",
              "type": "nominal",
              "scale": {"domain": ["AMc", "AMs", "AMd"], "range": ["circle", "square", "diamond"]}
            }
          }
        }
      ]
    },
    {
      "transform": [{"filter": {"field": "s", "oneOf": ["AWx", "AWt", "AWs", "AWf", "AWp", "AWv", "AWy", "AWh"]}}],
      "layer": [
        {
          "mark": {"type": "errorbar", "rule": {"strokeWidth": 1}},
          "encoding": {
            "yError": {"field": "e"},
            "color": {
              "field": "s",
              "type": "nominal",
              "scale": {
                "domain": ["AWx", "AWt", "AWs", "AWf", "AWp", "AWv", "AWy", "AWh"],
                "range": ["#3a52a4", "#e8262b", "#5dc8dc", "#f08a30", "#e8262b", "#5fb847", "#f3e81a", "#3a52a4"]
              }
            }
          }
        },
        {
          "mark": {"type": "point", "filled": false, "strokeWidth": 1, "size": 95, "opacity": 1},
          "encoding": {
            "color": {
              "field": "s",
              "type": "nominal",
              "scale": {
                "domain": ["AWx", "AWt", "AWs", "AWf", "AWp", "AWv", "AWy", "AWh"],
                "range": ["#3a52a4", "#e8262b", "#5dc8dc", "#f08a30", "#e8262b", "#5fb847", "#f3e81a", "#3a52a4"]
              },
              "legend": {
                "orient": "none",
                "legendX": 216.45,
                "legendY": 633,
                "direction": "horizontal",
                "title": null,
                "padding": 0,
                "gridAlign": "each",
                "columnPadding": 0,
                "symbolOffset": -3.2,
                "labelOffset": -11.95,
                "symbolSize": 55,
                "symbolStrokeWidth": 1,
                "labelFontSize": 15.5,
                "labelColor": "#222222",
                "labelExpr": "datum.value == 'AWh' ? '\u2800Anael Wunsche et al.' : ''"
              }
            },
            "shape": {
              "field": "s",
              "type": "nominal",
              "scale": {
                "domain": ["AWx", "AWt", "AWs", "AWf", "AWp", "AWv", "AWy", "AWh"],
                "range": [
                  "M-0.55,-0.55L0.55,-0.55L0.55,0.55L-0.55,0.55Z M-0.55,-0.55L-1,-1 M0.55,-0.55L1,-1 M0.55,0.55L1,1 M-0.55,0.55L-1,1",
                  "triangle-up",
                  "M0,-1L0.235,-0.324L0.951,-0.309L0.380,0.124L0.588,0.809L0,0.4L-0.588,0.809L-0.380,0.124L-0.951,-0.309L-0.235,-0.324Z",
                  "M0,-1L0.25,-0.25L1,0L0.25,0.25L0,1L-0.25,0.25L-1,0L-0.25,-0.25Z",
                  "M0,-1L0.951,-0.309L0.588,0.809L-0.588,0.809L-0.951,-0.309Z",
                  "triangle-down",
                  "M0,-1L0.25,-0.433L0.866,-0.5L0.5,0L0.866,0.5L0.25,0.433L0,1L-0.25,0.433L-0.866,0.5L-0.5,0L-0.866,-0.5L-0.25,-0.433Z",
                  "M0,-1L0.866,-0.5L0.866,0.5L0,1L-0.866,0.5L-0.866,-0.5Z"
                ]
              }
            }
          }
        }
      ]
    },
    {
      "data": {"name": "fit"},
      "transform": [{"fold": ["up", "lo"], "as": ["c", "m"]}],
      "mark": {"type": "line", "color": "#111111", "strokeWidth": 1, "strokeDash": [8, 3, 2, 3], "interpolate": "catmull-rom"},
      "encoding": {"detail": {"field": "c", "type": "nominal"}}
    },
    {
      "data": {"name": "fit"},
      "transform": [{"fold": ["mid"], "as": ["c", "m"]}],
      "mark": {"type": "line", "color": "#111111", "strokeWidth": 1, "interpolate": "catmull-rom"},
      "encoding": {}
    }
  ],
  "resolve": {"scale": {"color": "independent", "shape": "independent"}}
}
